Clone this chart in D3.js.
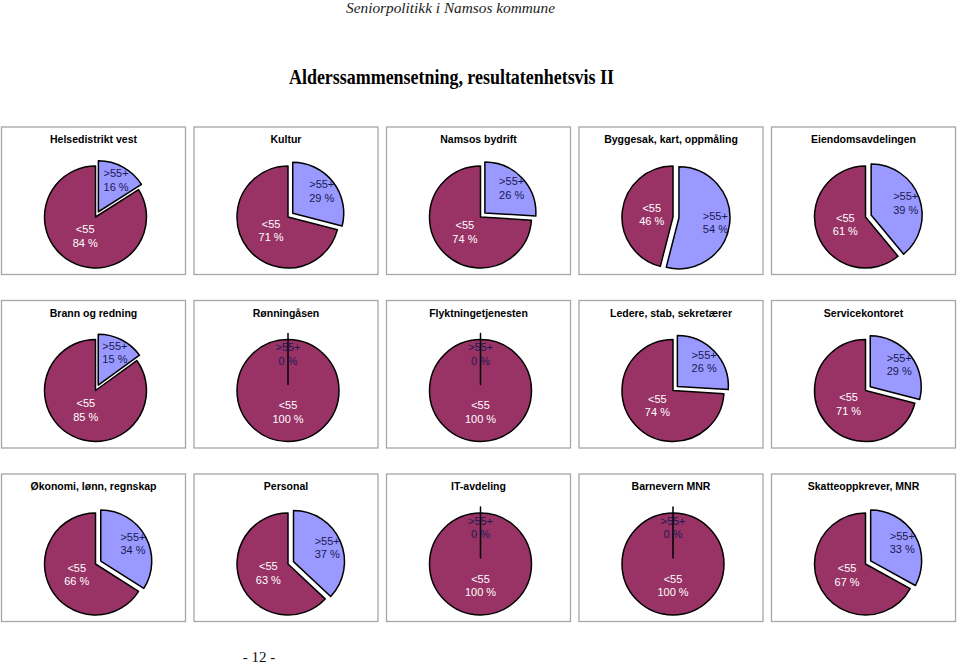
<!DOCTYPE html>
<html>
<head>
<meta charset="utf-8">
<script src="https://cdn.jsdelivr.net/npm/d3@7"></script>
<style>
  html, body { margin: 0; padding: 0; background: #fff; }
  svg { display: block; }
</style>
</head>
<body>
<svg id="chart" width="960" height="665"></svg>
<script>
// ---- data ----
const units = [
  "Helsedistrikt vest", "Kultur", "Namsos bydrift", "Byggesak, kart, oppmåling", "Eiendomsavdelingen",
  "Brann og redning", "Rønningåsen", "Flyktningetjenesten", "Ledere, stab, sekretærer", "Servicekontoret",
  "Økonomi, lønn, regnskap", "Personal", "IT-avdeling", "Barnevern MNR", "Skatteoppkrever, MNR"
];
const seriesNames = [">55+", "<55"];
const over55  = [16, 29, 26, 54, 39, 15, 0, 0, 26, 29, 34, 37, 0, 0, 33];
const under55 = [84, 71, 74, 46, 61, 85, 100, 100, 74, 71, 66, 63, 100, 100, 67];

const headerText = "Seniorpolitikk i Namsos kommune";
const titleText = "Alderssammensetning, resultatenhetsvis II";
const pageText = "- 12 -";

// ---- layout / style ----
const svg = d3.select("#chart");
const cols = 5;
const panelX = d3.scaleLinear().domain([0, 1]).range([1.5, 194]);
const panelY = d3.scaleLinear().domain([0, 1]).range([127, 300.5]);
const panelW = 184, panelH = 147.5;
const R = 51;
const explode = 6;
const fills = { ">55+": "#9999FF", "<55": "#993366" };
const textFill = { ">55+": "#1a1a50", "<55": "#ffffff" };
const labelFactor = { ">55+": 0.72, "<55": 0.42 };

svg.append("text")
  .attr("x", 450.5).attr("y", 13)
  .attr("text-anchor", "middle")
  .attr("font-family", "Liberation Serif, Times New Roman, serif")
  .attr("font-style", "italic")
  .attr("font-size", 14.5)
  .attr("textLength", 209).attr("lengthAdjust", "spacingAndGlyphs")
  .attr("fill", "#222")
  .text(headerText);

svg.append("text")
  .attr("x", 451.5).attr("y", 84)
  .attr("text-anchor", "middle")
  .attr("font-family", "Liberation Serif, Times New Roman, serif")
  .attr("font-weight", "bold")
  .attr("font-size", 21)
  .attr("textLength", 325).attr("lengthAdjust", "spacingAndGlyphs")
  .attr("fill", "#000")
  .text(titleText);

svg.append("text")
  .attr("x", 259).attr("y", 662)
  .attr("text-anchor", "middle")
  .attr("font-family", "Liberation Serif, Times New Roman, serif")
  .attr("font-size", 15)
  .attr("fill", "#111")
  .text(pageText);

const pie = d3.pie().sort(null).value(d => d.value);
const arc = d3.arc().innerRadius(0).outerRadius(R);

units.forEach((name, i) => {
  const col = i % cols, row = Math.floor(i / cols);
  const x0 = panelX(col), y0 = panelY(row);
  const g = svg.append("g").attr("transform", `translate(${x0},${y0})`);

  g.append("rect")
    .attr("x", 0).attr("y", 0)
    .attr("width", panelW).attr("height", panelH)
    .attr("fill", "#fff")
    .attr("stroke", "#a6a6a6").attr("stroke-width", 1.3);

  g.append("text")
    .attr("x", 92).attr("y", 16)
    .attr("text-anchor", "middle")
    .attr("font-family", "Liberation Sans, Arial, sans-serif")
    .attr("font-weight", "bold")
    .attr("font-size", 10.5)
    .attr("fill", "#000")
    .text(name);

  const data = [
    { name: seriesNames[0], value: over55[i] },
    { name: seriesNames[1], value: under55[i] }
  ];
  const arcs = pie(data);
  const pg = g.append("g").attr("transform", `translate(94,90)`);

  const offset = d => {
    if (d.data.name !== ">55+") return [0, 0];
    const a = (d.startAngle + d.endAngle) / 2;
    return [explode * Math.sin(a), -explode * Math.cos(a)];
  };

  // draw <55 first, >55+ on top
  const order = [arcs[1], arcs[0]];
  pg.selectAll("path.slice").data(order).join("path")
    .attr("class", "slice")
    .attr("d", arc)
    .attr("transform", d => `translate(${offset(d)})`)
    .attr("fill", d => fills[d.data.name])
    .attr("stroke", "#000")
    .attr("stroke-width", 1.5)
    .attr("stroke-linejoin", "round");

  arcs.forEach(d => {
    const a = (d.startAngle + d.endAngle) / 2;
    const rr = R * labelFactor[d.data.name];
    const o = d.value > 0 ? offset(d) : [0, 0];
    const cx = rr * Math.sin(a) + o[0];
    const cy = -rr * Math.cos(a) + o[1];
    const t = pg.append("text")
      .attr("text-anchor", "middle")
      .attr("font-family", "Liberation Sans, Arial, sans-serif")
      .attr("font-size", 11)
      .attr("fill", textFill[d.data.name]);
    t.append("tspan").attr("x", cx).attr("y", cy - 2.5).text(d.data.name);
    t.append("tspan").attr("x", cx).attr("y", cy + 11).text(d.data.value + " %");
  });
});
</script>
</body>
</html>
